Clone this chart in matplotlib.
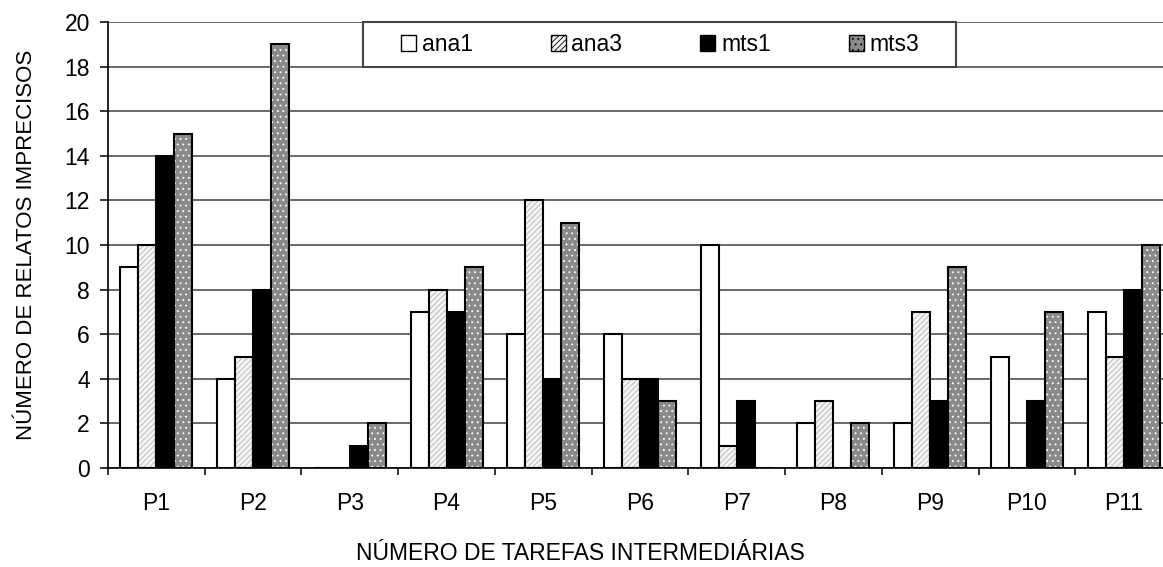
import matplotlib.pyplot as plt
import numpy as np
from matplotlib.patches import Patch, Rectangle

categories = ['P1', 'P2', 'P3', 'P4', 'P5', 'P6', 'P7', 'P8', 'P9', 'P10', 'P11']
ana1 = [9, 4, 0, 7, 6, 6, 10, 2, 2, 5, 7]
ana3 = [10, 5, 0, 8, 12, 4, 1, 3, 7, 0, 5]
mts1 = [14, 8, 1, 7, 4, 4, 3, 0, 3, 3, 8]
mts3 = [15, 19, 2, 9, 11, 3, 0, 2, 9, 7, 10]
series_names = ['ana1', 'ana3', 'mts1', 'mts3']

plt.rcParams['font.family'] = ['Liberation Sans', 'DejaVu Sans']
plt.rcParams['hatch.linewidth'] = 0.6

W, H = 1163, 567
fig = plt.figure(figsize=(W / 100, H / 100), dpi=100)
# the plot area runs a little past the right edge of the picture, as in the original
ax = fig.add_axes([108 / W, 1 - 468 / H, 1064 / W, 446 / H])

x = np.arange(len(categories))
w = 0.186
offs = [-1.5 * w, -0.5 * w, 0.5 * w, 1.5 * w]

# (face, hatch, hatch colour)
styles = [('white', None, None),
          ('#f4f4f4', '//////', '#b4b4b4'),
          ('black', None, None),
          ('#8a8a8a', '...', 'white')]

for vals, off, (fc, hatch, hc) in zip([ana1, ana3, mts1, mts3], offs, styles):
    if hatch:
        ax.bar(x + off, vals, w, color=fc, edgecolor=hc, hatch=hatch, linewidth=0, zorder=3)
        ax.bar(x + off, vals, w, fill=False, edgecolor='black', linewidth=1.5, zorder=4)
    else:
        ax.bar(x + off, vals, w, color=fc, edgecolor='black', linewidth=1.5, zorder=3)

ax.set_xlim(-0.5, len(categories) - 0.5)
ax.set_ylim(0, 20)
ax.set_yticks(range(0, 21, 2))
ax.yaxis.grid(True, color='#404040', linewidth=1.1, zorder=0)
ax.set_axisbelow(True)
ax.set_xticks(x)
ax.set_xticklabels(categories)
ax.set_xticks(np.arange(-0.5, len(categories), 1), minor=True)
ax.tick_params(axis='x', which='major', length=0, labelsize=16.5, pad=17)
ax.tick_params(axis='x', which='minor', length=5, width=1.1, direction='out')
ax.tick_params(axis='y', length=6, width=1.1, direction='out', labelsize=16.5, pad=7, colors='black')
for s in ['top', 'right']:
    ax.spines[s].set_visible(False)
for s in ['left', 'bottom']:
    ax.spines[s].set_linewidth(1.2)

# axis titles are centred on the visible picture
fig.text(580 / W, 1 - 553 / H, 'NÚMERO DE TAREFAS INTERMEDIÁRIAS', fontsize=16.5, ha='center', va='center')
ax.set_ylabel('NÚMERO DE RELATOS IMPRECISOS', fontsize=16, labelpad=20)

handles = []
for fc, hatch, hc in styles:
    if hatch:
        handles.append(Patch(facecolor=fc, edgecolor='black', hatch=hatch, linewidth=1.0))
    else:
        handles.append(Patch(facecolor=fc, edgecolor='black', linewidth=1.0))

# legend frame
fig.patches.append(Rectangle((363 / W, 1 - 67 / H), (956 - 363) / W, 45 / H, transform=fig.transFigure,
                             facecolor='white', edgecolor='#444444', linewidth=1.5, zorder=5))

leg = fig.legend(handles, series_names, loc='center left', bbox_to_anchor=(383 / W, 1 - 44.5 / H),
                 ncol=4, fontsize=16.5, frameon=False, handlelength=0.65, handleheight=0.65,
                 handletextpad=0.25, columnspacing=3.4, borderpad=0.3)
leg.set_zorder(6)

fig.savefig('out.png', dpi=100)
